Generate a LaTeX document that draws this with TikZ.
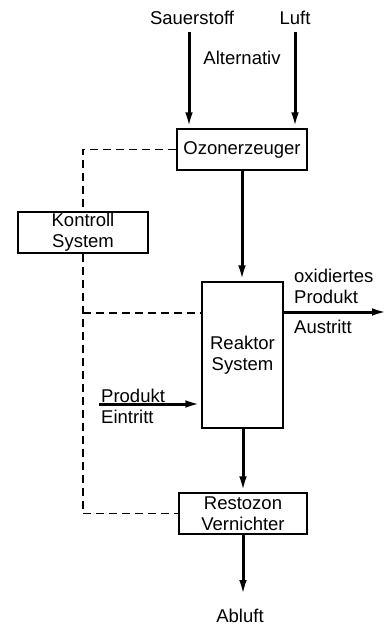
\documentclass[tikz,border=0pt]{standalone}
\usepackage{fontspec}
\setmainfont{Liberation Sans}
\usetikzlibrary{arrows.meta}
\begin{document}
\begin{tikzpicture}[x=1pt,y=-1pt,
  txt/.style={font=\fontsize{18.5}{21}\selectfont, inner sep=0pt, align=center},
  box/.style={draw, line width=1.4pt, txt},
  arr/.style={line width=3pt, -{Latex[length=16pt,width=7.5pt]}},
  ctl/.style={line width=1.3pt, dash pattern=on 8pt off 5pt}]
\useasboundingbox (0,0) rectangle (390,626);
% boxes
\node[box, minimum width=130pt, minimum height=41pt] (ozon) at (242,149.5) {Ozonerzeuger};
\node[box, minimum width=130pt, minimum height=41pt] (kontroll) at (83,232.5) {Kontroll\\System};
\node[box, minimum width=81pt, minimum height=146pt] (reaktor) at (242.5,355) {Reaktor\\System};
\node[box, minimum width=128pt, minimum height=41pt] (rest) at (243,513.5) {Restozon\\Vernichter};
% labels
\node[txt, anchor=base] (sauer) at (192,25) {Sauerstoff};
\node[txt, anchor=base] (luft) at (295,25) {Luft};
\node[txt, anchor=base] (alt) at (242,65) {Alternativ};
\node[txt, anchor=base] (abluft) at (240,622) {Abluft};
\node[txt, anchor=base west, align=left] (oxi) at (294,303) {oxidiertes\\Produkt};
\node[txt, anchor=base west] (aus) at (294,333) {Austritt};
\node[txt, anchor=base west, align=left] (ein) at (101,423) {Produkt\\Eintritt};
% coordinates
\coordinate (s1) at (189,32);
\coordinate (l1) at (295,32);
\coordinate (outE) at (388,312);
\coordinate (inW) at (99,404);
\coordinate (abl) at (243,596);
\coordinate (dx) at (83,313);
% arrows
\draw[arr] (s1) -- (s1 |- ozon.north);
\draw[arr] (l1) -- (l1 |- ozon.north);
\draw[arr] (ozon.south) -- (ozon.south |- reaktor.north);
\draw[arr] (reaktor.east |- outE) -- (outE);
\draw[arr] (inW) -- (inW -| reaktor.west);
\draw[arr] (rest.north |- reaktor.south) -- (rest.north);
\draw[arr] (rest.south) -- (abl);
% control lines
\draw[ctl] (ozon.west) -- (ozon.west -| kontroll.north) -- (kontroll.north);
\draw[ctl] (kontroll.south) -- (kontroll.south |- rest.west) -- (rest.west);
\draw[ctl] (dx) -- (dx -| reaktor.west);
\end{tikzpicture}
\end{document}
